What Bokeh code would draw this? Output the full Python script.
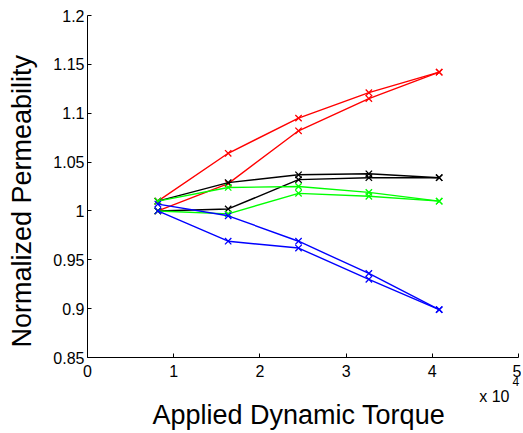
import math
from bokeh.plotting import figure
from bokeh.models import Range1d, FixedTicker, CustomJSTickFormatter, Label
from bokeh.embed import file_html
from bokeh.resources import INLINE

# Data (torque, normalized permeability)
torque = [8160, 16320, 24480, 32640, 40800]

red_a = [1.010, 1.059, 1.095, 1.121, 1.142]
red_b = [1.000, 1.028, 1.082, 1.115, 1.142]
black_a = [1.010, 1.029, 1.037, 1.038, 1.034]
black_b = [1.000, 1.002, 1.032, 1.034, 1.034]
green_a = [1.010, 1.024, 1.025, 1.019, 1.010]
green_b = [1.000, 0.997, 1.018, 1.015, 1.010]
blue_a = [1.007, 0.995, 0.969, 0.936, 0.899]
blue_b = [1.000, 0.969, 0.962, 0.930, 0.899]

x_ticks = [0, 10000, 20000, 30000, 40000, 50000]
y_ticks = [0.85, 0.9, 0.95, 1.0, 1.05, 1.1, 1.15, 1.2]
x_lim = (0, 50000)
y_lim = (0.85, 1.2)

FONT = "Liberation Sans"

# ---- layout: the frame covers the whole canvas; axes sit at fixed locations
W, H = 521, 431
AX_L, AX_R, AX_T, AX_B = 87, 518, 15, 357      # axes box in canvas px
sx = (x_lim[1] - x_lim[0]) / (AX_R - AX_L)
sy = (y_lim[1] - y_lim[0]) / (AX_B - AX_T)
XR = (x_lim[0] - AX_L * sx, x_lim[1] + (W - AX_R) * sx)
YR = (y_lim[0] - (H - AX_B) * sy, y_lim[1] + AX_T * sy)


def fx(px):
    return XR[0] + px * sx


def fy(py):
    return YR[1] - py * sy


p = figure(width=W, height=H, output_backend="svg", toolbar_location=None,
           x_range=Range1d(*XR), y_range=Range1d(*YR),
           min_border=0, min_border_left=0, min_border_right=0,
           min_border_top=0, min_border_bottom=0)
p.title.visible = False
p.outline_line_color = None
p.grid.visible = False
p.background_fill_color = "white"
p.border_fill_color = "white"

series = [
    ("#ff0000", red_a, red_b),
    ("#000000", black_a, black_b),
    ("#00ff00", green_a, green_b),
    ("#0000ff", blue_a, blue_b),
]
for color, a, b in series:
    for ys in (a, b):
        p.line(torque, ys, line_color=color, line_width=1.4)
        p.scatter(torque, ys, marker="x", size=9, line_color=color, line_width=1.3)

for ax in (p.xaxis[0], p.yaxis[0]):
    ax.major_tick_in = 4
    ax.major_tick_out = 0
    ax.minor_tick_line_color = None
    ax.axis_line_color = "black"
    ax.major_tick_line_color = "black"
    ax.major_label_text_color = "black"
    ax.major_label_text_font = FONT
    ax.major_label_text_font_size = "16px"

p.xaxis.fixed_location = y_lim[0]
p.yaxis.fixed_location = x_lim[0]
p.xaxis.bounds = x_lim
p.yaxis.bounds = y_lim
p.xaxis.ticker = FixedTicker(ticks=x_ticks)
p.yaxis.ticker = FixedTicker(ticks=y_ticks)
p.xaxis.formatter = CustomJSTickFormatter(code="return String(Math.round(tick/10000));")
p.yaxis.formatter = CustomJSTickFormatter(code="return String(Math.round(tick*100)/100);")
p.xaxis.major_label_standoff = 7
p.yaxis.major_label_standoff = 3


def add_text(text, px, py, size, align="left", angle=0.0):
    p.add_layout(Label(x=fx(px), y=fy(py), text=text, angle=angle,
                       text_align=align, text_baseline="middle",
                       text_font=FONT, text_font_size=size, text_color="black"))


add_text("Applied Dynamic Torque", 152, 414, "27px")
add_text("Normalized Permeability", 21, 347, "27px", angle=math.pi / 2)
add_text("x 10", 509, 396, "16px", align="right")
add_text("4", 512, 381, "12px")

open("out.html", "w").write(file_html(p, INLINE))
